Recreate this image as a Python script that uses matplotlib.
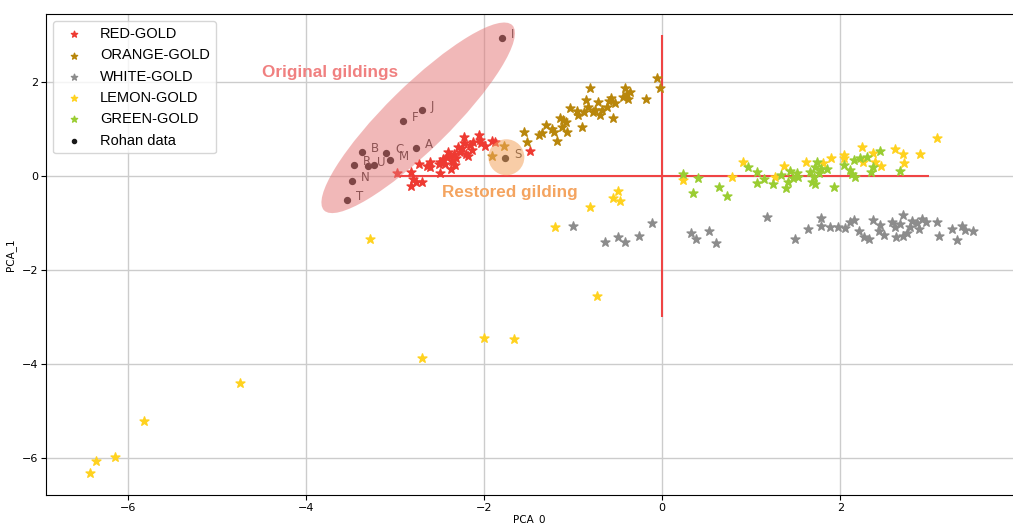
import numpy as np
import matplotlib
matplotlib.use("Agg")
import matplotlib.pyplot as plt
import matplotlib.transforms as mtransforms
from matplotlib.patches import Ellipse

# --- data (PCA scores) ---
red_x = [-2.98, -2.82, -2.80, -2.82, -2.70, -2.77, -2.73, -2.64, -2.61, -2.61,
         -2.50, -2.49, -2.51, -2.46, -2.44, -2.42, -2.40, -2.39, -2.37, -2.36,
         -2.34, -2.31, -2.27, -2.25, -2.22, -2.23, -2.18, -2.16, -2.14, -2.12,
         -2.06, -2.05, -2.04, -1.99, -1.91, -1.88, -1.48, -2.20, -2.29, -2.33]
red_y = [0.06, 0.09, -0.06, -0.21, -0.12, -0.12, 0.26, 0.22, 0.29, 0.20,
         0.06, 0.30, 0.26, 0.36, 0.25, 0.41, 0.52, 0.43, 0.16, 0.32,
         0.46, 0.38, 0.52, 0.59, 0.84, 0.70, 0.43, 0.66, 0.55, 0.73,
         0.87, 0.77, 0.70, 0.64, 0.74, 0.73, 0.53, 0.48, 0.61, 0.24]

orange_x = [-1.55, -1.52, -1.38, -1.35, -1.31, -1.24, -1.22, -1.18, -1.15, -1.13,
            -1.11, -1.07, -1.08, -1.03, -0.96, -0.94, -0.90, -0.88, -0.85, -0.83,
            -0.81, -0.78, -0.75, -0.72, -0.70, -0.68, -0.62, -0.60, -0.57, -0.55,
            -0.53, -0.44, -0.42, -0.40, -0.38, -0.36, -0.18, -0.06, -0.03,
            -1.91, -1.78]
orange_y = [0.94, 0.73, 0.87, 0.91, 1.09, 1.01, 0.94, 0.74, 1.23, 1.05,
            1.19, 0.94, 1.16, 1.45, 1.38, 1.31, 1.05, 1.37, 1.62, 1.47,
            1.88, 1.37, 1.40, 1.58, 1.30, 1.40, 1.47, 1.60, 1.67, 1.24,
            1.55, 1.69, 1.88, 1.74, 1.64, 1.79, 1.65, 2.09, 1.87,
            0.43, 0.65]

white_x = [-1.00, -0.64, -0.50, -0.42, -0.26, -0.11,
           0.32, 0.38, 0.53, 0.61, 1.18, 1.49, 1.64, 1.78, 1.78, 1.89,
           1.97, 2.05, 2.11, 2.15, 2.21, 2.27, 2.32, 2.37, 2.43, 2.45,
           2.49, 2.58, 2.62, 2.63, 2.67, 2.70, 2.70, 2.75, 2.78, 2.81,
           2.86, 2.88, 2.92, 2.96, 3.09, 3.11, 3.26, 3.31, 3.37, 3.40, 3.49]
white_y = [-1.07, -1.40, -1.30, -1.40, -1.28, -1.01,
           -1.22, -1.34, -1.18, -1.42, -0.87, -1.33, -1.13, -0.89, -1.06, -1.08,
           -1.08, -1.11, -0.97, -0.94, -1.18, -1.30, -1.33, -0.94, -1.18, -1.04,
           -1.26, -0.97, -1.08, -1.30, -1.02, -0.83, -1.28, -1.21, -1.08, -0.95,
           -1.01, -1.13, -0.92, -0.97, -0.97, -1.28, -1.13, -1.36, -1.06, -1.15, -1.18]

lemon_x = [-6.43, -6.36, -6.15, -5.82, -4.74, -3.28, -2.70, -2.00, -1.66, -1.20,
           -0.81, -0.73, -0.55, -0.50, -0.47,
           0.23, 0.78, 0.91, 1.27, 1.37, 1.62, 1.81, 1.90, 2.04, 2.04,
           2.24, 2.25, 2.37, 2.39, 2.46, 2.62, 2.71, 2.72, 2.89, 3.09]
lemon_y = [-6.33, -6.06, -5.99, -5.21, -4.40, -1.33, -3.88, -3.45, -3.47, -1.09,
           -0.66, -2.55, -0.46, -0.31, -0.53,
           -0.09, -0.03, 0.30, -0.03, 0.21, 0.30, 0.27, 0.38, 0.45, 0.38,
           0.62, 0.30, 0.50, 0.30, 0.21, 0.57, 0.46, 0.27, 0.47, 0.80]

green_x = [0.23, 0.40, 0.35, 0.64, 0.73, 0.96, 1.06, 1.06, 1.14, 1.25,
           1.33, 1.39, 1.44, 1.41, 1.47, 1.51, 1.52, 1.66, 1.68, 1.70,
           1.72, 1.74, 1.76, 1.78, 1.72, 1.85, 1.93, 2.04, 2.11, 2.13,
           2.15, 2.17, 2.22, 2.30, 2.35, 2.37, 2.45, 2.67]
green_y = [0.04, -0.05, -0.37, -0.24, -0.42, 0.20, 0.09, -0.14, -0.07, -0.16,
           0.02, -0.26, 0.11, -0.12, -0.05, 0.07, -0.01, 0.09, -0.12, -0.01,
           0.20, 0.30, 0.06, 0.14, -0.16, 0.14, -0.24, 0.23, 0.13, 0.04,
           0.34, -0.01, 0.38, 0.41, 0.09, 0.20, 0.53, 0.11]

rohan_lbl = ["I", "J", "F", "A", "C", "M", "B", "R", "U", "", "N", "T", "S"]
rohan_x = [-1.80, -2.70, -2.91, -2.77, -3.10, -3.06, -3.37, -3.46, -3.30, -3.24, -3.48, -3.54, -1.76]
rohan_y = [2.93, 1.40, 1.18, 0.59, 0.50, 0.34, 0.52, 0.24, 0.22, 0.23, -0.10, -0.51, 0.39]

fig = plt.figure(figsize=(10.13, 5.24), dpi=100)
ax = fig.add_axes([46 / 1013, 29 / 524, 967 / 1013, 481 / 524])

ax.scatter(red_x, red_y, marker="*", s=45, color="#ee3a32", label="RED-GOLD", zorder=3)
ax.scatter(orange_x, orange_y, marker="*", s=45, color="#b8860b", label="ORANGE-GOLD", zorder=3)
ax.scatter(white_x, white_y, marker="*", s=45, color="#8c8c8c", label="WHITE-GOLD", zorder=3)
ax.scatter(lemon_x, lemon_y, marker="*", s=45, color="#ffd21f", label="LEMON-GOLD", zorder=3)
ax.scatter(green_x, green_y, marker="*", s=45, color="#9acd32", label="GREEN-GOLD", zorder=3)
ax.scatter(rohan_x, rohan_y, marker="o", s=18, color="#1a1a1a", label="Rohan data", zorder=4)
for lb, xx, yy in zip(rohan_lbl, rohan_x, rohan_y):
    ax.text(xx + 0.1, yy, lb, fontsize=8.5, color="#333333", zorder=4)

# red cross
ax.hlines(0, -3, 3, color="#ef4444", lw=1.5, zorder=2)
ax.vlines(0, -3, 3, color="#ef4444", lw=1.5, zorder=2)

ax.set_xlim(-6.92, 3.94)
ax.set_ylim(-6.79, 3.45)
ax.set_xticks([-6, -4, -2, 0, 2])
ax.set_yticks([-6, -4, -2, 0, 2])
ax.tick_params(labelsize=8, pad=2)
ax.grid(True, color="#cccccc", lw=1)
ax.set_axisbelow(True)
ax.spines["right"].set_visible(False)
ax.set_xlabel("PCA_0", fontsize=7.5, labelpad=1)
ax.set_ylabel("PCA_1", fontsize=7.5, labelpad=4)

# highlight shapes (sizes in pixels)
tr1 = mtransforms.ScaledTranslation(-2.74, 1.24, ax.transData)
ax.add_patch(Ellipse((0, 0), 264, 64, angle=44.5, transform=tr1,
                     facecolor="#e57373", alpha=0.5, edgecolor="none", zorder=5))
tr2 = mtransforms.ScaledTranslation(-1.75, 0.40, ax.transData)
ax.add_patch(Ellipse((0, 0), 36, 36, transform=tr2,
                     facecolor="#f4a460", alpha=0.55, edgecolor="none", zorder=5))

ax.text(-3.73, 2.21, "Original gildings", color="#f08080", fontsize=12.3,
        fontweight="bold", family="Liberation Sans", ha="center", va="center", zorder=6)
ax.text(-1.71, -0.36, "Restored gilding", color="#f4a460", fontsize=12.3,
        fontweight="bold", family="Liberation Sans", ha="center", va="center", zorder=6)

leg = ax.legend(loc="upper left", markerscale=0.7,
                prop={"family": "Liberation Sans", "size": 10.5})

fig.savefig("out.png", dpi=100)
